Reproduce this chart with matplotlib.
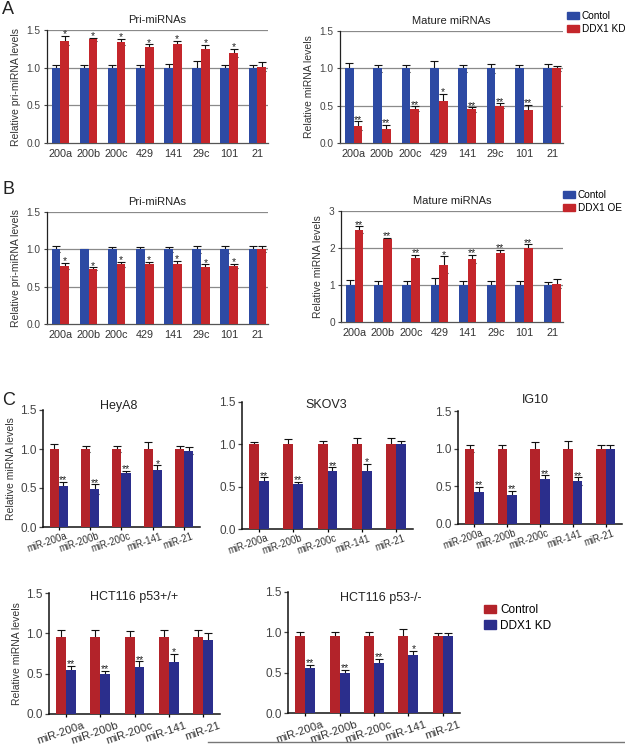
import matplotlib
matplotlib.use("Agg")
import matplotlib.pyplot as plt
from matplotlib.patches import Patch
from matplotlib.lines import Line2D
import numpy as np

plt.rcParams['font.family'] = ['Liberation Sans', 'DejaVu Sans']

# ---- data ----
ab_labels = ["200a", "200b", "200c", "429", "141", "29c", "101", "21"]
c_labels = ["miR-200a", "miR-200b", "miR-200c", "miR-141", "miR-21"]

# panel A, pri-miRNAs
a_pri_ctrl = [1.0, 1.0, 1.0, 1.0, 1.0, 1.0, 1.0, 1.0]
a_pri_ctrl_err = [0.04, 0.04, 0.04, 0.03, 0.05, 0.085, 0.03, 0.04]
a_pri_kd = [1.36, 1.38, 1.34, 1.28, 1.32, 1.25, 1.195, 1.01]
a_pri_kd_err = [0.06, 0.02, 0.045, 0.03, 0.04, 0.055, 0.055, 0.06]
a_pri_stars = ["*", "*", "*", "*", "*", "*", "*", ""]

# panel A, mature miRNAs
a_mat_ctrl = [1.0, 1.0, 1.0, 1.0, 1.0, 1.0, 1.0, 1.0]
a_mat_ctrl_err = [0.075, 0.05, 0.05, 0.10, 0.05, 0.06, 0.05, 0.06]
a_mat_kd = [0.23, 0.19, 0.46, 0.56, 0.45, 0.50, 0.44, 1.0]
a_mat_kd_err = [0.06, 0.05, 0.03, 0.10, 0.03, 0.03, 0.07, 0.03]
a_mat_stars = ["**", "**", "**", "*", "**", "**", "**", ""]

# panel B, pri-miRNAs
b_pri_ctrl = [1.0, 1.0, 1.0, 1.0, 1.0, 1.0, 1.0, 1.0]
b_pri_ctrl_err = [0.04, 0.01, 0.03, 0.03, 0.03, 0.045, 0.05, 0.05]
b_pri_oe = [0.78, 0.74, 0.80, 0.80, 0.81, 0.77, 0.78, 1.01]
b_pri_oe_err = [0.04, 0.02, 0.03, 0.03, 0.04, 0.03, 0.03, 0.04]
b_pri_stars = ["*", "*", "*", "*", "*", "*", "*", ""]

# panel B, mature miRNAs
b_mat_ctrl = [1.0, 1.0, 1.0, 1.0, 1.0, 1.0, 1.0, 1.0]
b_mat_ctrl_err = [0.13, 0.12, 0.11, 0.20, 0.10, 0.10, 0.10, 0.08]
b_mat_oe = [2.50, 2.24, 1.74, 1.55, 1.71, 1.86, 1.99, 1.04]
b_mat_oe_err = [0.09, 0.04, 0.08, 0.23, 0.11, 0.09, 0.11, 0.11]
b_mat_stars = ["**", "**", "**", "*", "**", "**", "**", ""]

# panel C
heya8_ctrl = [1.0, 1.0, 1.0, 1.0, 1.0]
heya8_ctrl_err = [0.07, 0.04, 0.04, 0.09, 0.04]
heya8_kd = [0.53, 0.485, 0.69, 0.73, 0.98]
heya8_kd_err = [0.05, 0.06, 0.03, 0.06, 0.05]
heya8_stars = ["**", "**", "**", "*", ""]

skov3_ctrl = [1.0, 1.0, 1.0, 1.0, 1.0]
skov3_ctrl_err = [0.03, 0.06, 0.04, 0.07, 0.075]
skov3_kd = [0.57, 0.53, 0.68, 0.68, 1.0]
skov3_kd_err = [0.04, 0.03, 0.05, 0.09, 0.035]
skov3_stars = ["**", "**", "**", "*", ""]

ig10_ctrl = [1.0, 1.0, 1.0, 1.0, 1.0]
ig10_ctrl_err = [0.05, 0.05, 0.09, 0.10, 0.05]
ig10_kd = [0.43, 0.38, 0.60, 0.57, 1.0]
ig10_kd_err = [0.06, 0.06, 0.045, 0.05, 0.055]
ig10_stars = ["**", "**", "**", "**", ""]

hct_wt_ctrl = [0.96, 0.96, 0.96, 0.96, 0.96]
hct_wt_ctrl_err = [0.08, 0.08, 0.07, 0.085, 0.085]
hct_wt_kd = [0.54, 0.50, 0.585, 0.645, 0.92]
hct_wt_kd_err = [0.06, 0.035, 0.07, 0.105, 0.09]
hct_wt_stars = ["**", "**", "**", "*", ""]

hct_ko_ctrl = [0.955, 0.955, 0.955, 0.955, 0.955]
hct_ko_ctrl_err = [0.05, 0.055, 0.055, 0.09, 0.035]
hct_ko_kd = [0.56, 0.50, 0.62, 0.72, 0.95]
hct_ko_kd_err = [0.04, 0.035, 0.05, 0.05, 0.045]
hct_ko_stars = ["**", "**", "**", "*", ""]

W, H = 625, 746
BLUE_AB = "#2d4aa3"
RED_AB = "#c4262b"
BLUE_C = "#2b2e8c"
RED_C = "#b3232a"


def make_axes(fig, x0, y0, x1, y1):
    return fig.add_axes([x0 / W, 1 - y1 / H, (x1 - x0) / W, (y1 - y0) / H])


def star_text(ax, xs, tops, stars, size):
    for x, t, s in zip(xs, tops, stars):
        if s:
            ax.annotate(s, (x, t), xytext=(0, -2.5), textcoords="offset points",
                        ha="center", va="bottom", fontsize=size, color="#222222")


def bar_pair(ax, x, first, first_err, second, second_err, c1, c2, w):
    ax.bar(x - w / 2, first, w, color=c1, zorder=3, linewidth=0)
    ax.bar(x + w / 2, second, w, color=c2, zorder=3, linewidth=0)
    ax.errorbar(x - w / 2, first, yerr=first_err, fmt="none", ecolor="#111111",
                elinewidth=0.8, capsize=3, capthick=0.8, zorder=2)
    ax.errorbar(x + w / 2, second, yerr=second_err, fmt="none", ecolor="#111111",
                elinewidth=0.8, capsize=3, capthick=0.8, zorder=2)


def panel_ab(ax, ctrl, ctrl_err, treat, treat_err, stars, title, ylabel, ymax, yticks, yticklabels):
    x = np.arange(len(ab_labels))
    w = 0.31
    bar_pair(ax, x, ctrl, ctrl_err, treat, treat_err, BLUE_AB, RED_AB, w)
    tops = np.array(treat) + np.array(treat_err)
    star_text(ax, x + w / 2, tops, stars, 7.5)
    ax.set_xlim(-0.48, 7.38)
    ax.set_ylim(0, ymax)
    ax.set_yticks(yticks)
    ax.set_yticklabels(yticklabels)
    for yv in yticks[1:]:
        ax.axhline(yv, color="#8a8a8a", lw=0.9, zorder=1)
    ax.set_xticks(x)
    ax.set_xticklabels(ab_labels)
    ax.tick_params(axis="x", length=0, pad=4, labelsize=7.8, colors="#333333")
    ax.tick_params(axis="y", length=2.5, width=0.8, pad=2, labelsize=7.3, colors="#444444")
    for s in ["top", "right"]:
        ax.spines[s].set_visible(False)
    ax.spines["left"].set_color("#222222")
    ax.spines["bottom"].set_color("#555555")
    ax.spines["left"].set_linewidth(0.9)
    ax.spines["bottom"].set_linewidth(0.9)
    ax.set_title(title, fontsize=8, pad=5, color="#222222")
    ax.set_ylabel(ylabel, fontsize=7.5, color="#333333", labelpad=4)


def panel_c(ax, ctrl, ctrl_err, kd, kd_err, stars, title, tx, ty, lab_size, lab_dx, lab_dy,
            ylabel=None):
    x = np.arange(len(c_labels))
    w = 0.29
    bar_pair(ax, x, ctrl, ctrl_err, kd, kd_err, RED_C, BLUE_C, w)
    tops = np.array(kd) + np.array(kd_err)
    star_text(ax, x + w / 2, tops, stars, 7.5)
    ax.set_xlim(-0.5, 4.5)
    ax.set_ylim(0, 1.5)
    ax.set_yticks([0, 0.5, 1.0, 1.5])
    ax.set_yticklabels(["0.0", "0.5", "1.0", "1.5"])
    ax.set_xticks(x)
    ax.set_xticklabels([])
    # rotated category names, placed from the tick positions
    for xi, lab in zip(x, c_labels):
        ax.annotate(lab, (xi, 0), xytext=(lab_dx, lab_dy), textcoords="offset points",
                    rotation=19, ha="right", va="top", rotation_mode="anchor",
                    fontsize=lab_size, color="#333333", annotation_clip=False)
    ax.tick_params(axis="x", length=2.5, width=0.9)
    ax.tick_params(axis="y", length=3, width=0.9, pad=1.5, labelsize=8.5, colors="#444444")
    for s in ["top", "right"]:
        ax.spines[s].set_visible(False)
    ax.spines["left"].set_linewidth(1.1)
    ax.spines["bottom"].set_linewidth(1.1)
    ax.spines["left"].set_color("#111111")
    ax.spines["bottom"].set_color("#111111")
    ax.text(tx, ty, title, transform=ax.transAxes, fontsize=9, ha="center", va="center",
            color="#222222")
    if ylabel:
        ax.set_ylabel(ylabel, fontsize=7.5, color="#333333", labelpad=3)


def main():
    fig = plt.figure(figsize=(W / 100, H / 100), dpi=100)

    ax = make_axes(fig, 47, 30, 268, 143)
    panel_ab(ax, a_pri_ctrl, a_pri_ctrl_err, a_pri_kd, a_pri_kd_err, a_pri_stars,
             "Pri-miRNAs", "Relative pri-miRNA levels", 1.5,
             [0, 0.5, 1.0, 1.5], ["0.0", "0.5", "1.0", "1.5"])
    ax = make_axes(fig, 340, 31, 563, 143)
    panel_ab(ax, a_mat_ctrl, a_mat_ctrl_err, a_mat_kd, a_mat_kd_err, a_mat_stars,
             "Mature miRNAs", "Relative miRNA levels", 1.5,
             [0, 0.5, 1.0, 1.5], ["0.0", "0.5", "1.0", "1.5"])
    ax = make_axes(fig, 47, 212, 268, 324)
    panel_ab(ax, b_pri_ctrl, b_pri_ctrl_err, b_pri_oe, b_pri_oe_err, b_pri_stars,
             "Pri-miRNAs", "Relative pri-miRNA levels", 1.5,
             [0, 0.5, 1.0, 1.5], ["0.0", "0.5", "1.0", "1.5"])
    ax = make_axes(fig, 341, 211, 563, 322)
    panel_ab(ax, b_mat_ctrl, b_mat_ctrl_err, b_mat_oe, b_mat_oe_err, b_mat_stars,
             "Mature miRNAs", "Relative miRNA levels", 3,
             [0, 1, 2, 3], ["0", "1", "2", "3"])

    ax = make_axes(fig, 43, 410, 200, 527)
    panel_c(ax, heya8_ctrl, heya8_ctrl_err, heya8_kd, heya8_kd_err, heya8_stars,
            "HeyA8", 0.48, 1.03, 6.9, 5, -3, "Relative miRNA levels")
    ax = make_axes(fig, 242, 402, 413, 529)
    panel_c(ax, skov3_ctrl, skov3_ctrl_err, skov3_kd, skov3_kd_err, skov3_stars,
            "SKOV3", 0.49, 0.975, 6.9, 5, -3)
    ax = make_axes(fig, 458, 411, 622, 524)
    panel_c(ax, ig10_ctrl, ig10_ctrl_err, ig10_kd, ig10_kd_err, ig10_stars,
            "IG10", 0.47, 1.10, 6.9, 5, -3)
    ax = make_axes(fig, 49, 593, 220, 714)
    panel_c(ax, hct_wt_ctrl, hct_wt_ctrl_err, hct_wt_kd, hct_wt_kd_err, hct_wt_stars,
            "HCT116 p53+/+", 0.50, 0.965, 8.2, 11.5, -4.5, "Relative miRNA levels")
    ax = make_axes(fig, 288, 592, 460, 713)
    panel_c(ax, hct_ko_ctrl, hct_ko_ctrl_err, hct_ko_kd, hct_ko_kd_err, hct_ko_stars,
            "HCT116 p53-/-", 0.54, 0.95, 8.2, 11.5, -4.5)

    # legends
    leg_kw = dict(frameon=False, handlelength=1.2, handleheight=0.7,
                  handletextpad=0.3, labelspacing=0.3, borderpad=0, borderaxespad=0)
    fig.legend(handles=[Patch(color=BLUE_AB, label="Contol"), Patch(color=RED_AB, label="DDX1 KD")],
               loc="upper left", bbox_to_anchor=(567 / W, 1 - 11 / H), fontsize=7.2, **leg_kw)
    fig.legend(handles=[Patch(color=BLUE_AB, label="Contol"), Patch(color=RED_AB, label="DDX1 OE")],
               loc="upper left", bbox_to_anchor=(563 / W, 1 - 190 / H), fontsize=7.2, **leg_kw)
    leg_kw["handlelength"] = 1.05
    fig.legend(handles=[Patch(color=RED_C, label="Control"), Patch(color=BLUE_C, label="DDX1 KD")],
               loc="upper left", bbox_to_anchor=(484 / W, 1 - 604 / H), fontsize=8.5, **leg_kw)

    # panel letters
    fig.text(2 / W, 1 - 1 / H, "A", fontsize=13, va="top", color="#222222")
    fig.text(2 / W, 1 - 181 / H, "B", fontsize=13, va="top", color="#222222")
    fig.text(2 / W, 1 - 392 / H, "C", fontsize=13, va="top", color="#222222")

    fig.add_artist(Line2D([208 / W, 1.0], [1 - 742 / H, 1 - 742 / H], color="#777777", lw=1))

    fig.savefig("out.png", dpi=100)


if __name__ == "__main__":
    main()
